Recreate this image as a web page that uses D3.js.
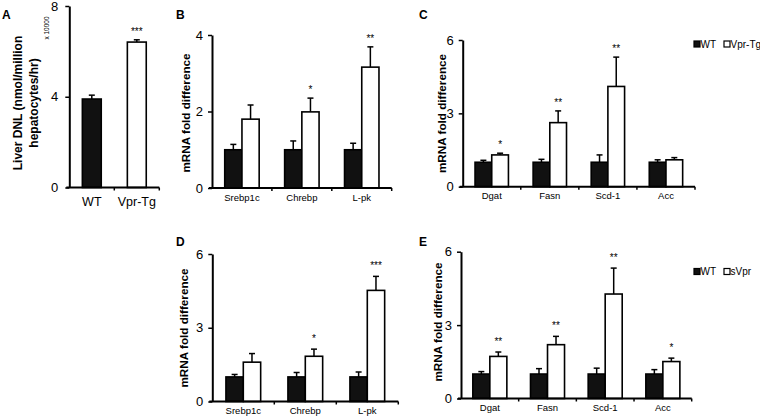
<!DOCTYPE html>
<html><head><meta charset="utf-8">
<script src="https://cdn.jsdelivr.net/npm/d3@7"></script>
<style>body{margin:0;background:#fff} svg{display:block} text{font-family:"Liberation Sans",Arial,Helvetica,sans-serif;fill:#000}</style>
</head><body><svg id="chart" width="760" height="418"></svg>
<script>
// ---------- DATA ----------
const aCategories = ["WT", "Vpr-Tg"];
const aValues = [3.9, 6.41];
const aErrors = [0.17, 0.1];
const aStars = ["", "***"];
const aTicks = [0, 4, 8];

const bCategories = ["Srebp1c", "Chrebp", "L-pk"];
const bWT = [1.0, 1.0, 1.0];
const bWTErr = [0.14, 0.23, 0.17];
const bVpr = [1.8, 1.99, 3.16];
const bVprErr = [0.37, 0.36, 0.53];
const bStars = ["", "*", "**"];
const bTicks = [0, 2, 4];

const cCategories = ["Dgat", "Fasn", "Scd-1", "Acc"];
const cWT = [1.0, 1.0, 1.0, 1.0];
const cWTErr = [0.08, 0.12, 0.3, 0.1];
const cVpr = [1.3, 2.62, 4.1, 1.1];
const cVprErr = [0.07, 0.48, 1.2, 0.09];
const cStars = ["*", "**", "**", ""];
const cTicks = [0, 3, 6];

const dCategories = ["Srebp1c", "Chrebp", "L-pk"];
const dWT = [1.0, 1.0, 1.0];
const dWTErr = [0.1, 0.18, 0.2];
const dVpr = [1.6, 1.84, 4.52];
const dVprErr = [0.35, 0.29, 0.57];
const dStars = ["", "*", "***"];
const dTicks = [0, 3, 6];

const eCategories = ["Dgat", "Fasn", "Scd-1", "Acc"];
const eWT = [1.0, 1.0, 1.0, 1.0];
const eWTErr = [0.1, 0.22, 0.24, 0.18];
const eVpr = [1.72, 2.2, 4.27, 1.51];
const eVprErr = [0.18, 0.34, 1.06, 0.14];
const eStars = ["**", "**", "**", "*"];
const eTicks = [0, 3, 6];

const legendC = ["WT", "Vpr-Tg"];
const legendE = ["WT", "sVpr"];
const yTitle = "mRNA fold difference";

// ---------- DRAW ----------
const svg = d3.select("#chart");

function drawAxes(g, x, y, ticks, o) {
  const ya = g.append("g").attr("transform", `translate(${o.left},0)`)
    .call(d3.axisLeft(y).tickValues(ticks).tickFormat(d3.format("d")).tickSize(4).tickSizeOuter(0).tickPadding(o.tickPad || 5));
  ya.select(".domain").attr("stroke", "#000").attr("stroke-width", 2);
  ya.selectAll(".tick line").attr("stroke", "#000").attr("stroke-width", 1.5);
  ya.selectAll(".tick text").style("font-size", (o.tickFont || 13) + "px").attr("fill", "#000");
  const xa = g.append("g").attr("transform", `translate(0,${o.bottom})`)
    .call(d3.axisBottom(x).tickSize(0).tickPadding(o.xPad || 6));
  xa.select(".domain").attr("stroke", "#000").attr("stroke-width", 2)
    .attr("d", `M${o.left - 3},0H${o.right}`);
  xa.selectAll(".tick text").style("font-size", (o.xFont || 9.5) + "px").attr("fill", "#000");
  g.selectAll(null).data(x.domain()).enter().append("line")
    .attr("x1", d => x(d) + x.bandwidth()).attr("x2", d => x(d) + x.bandwidth())
    .attr("y1", o.bottom).attr("y2", o.bottom + 3)
    .attr("stroke", "#000").attr("stroke-width", 1.5);
}

function errorBar(g, cx, y, v, e, capW) {
  g.append("line").attr("x1", cx).attr("x2", cx).attr("y1", y(v)).attr("y2", y(v + e))
    .attr("stroke", "#000").attr("stroke-width", 1.5);
  g.append("line").attr("x1", cx - capW / 2).attr("x2", cx + capW / 2).attr("y1", y(v + e)).attr("y2", y(v + e))
    .attr("stroke", "#000").attr("stroke-width", 1.5);
}

function groupedPanel(o) {
  const g = svg.append("g");
  const y = d3.scaleLinear().domain([0, o.ticks[o.ticks.length - 1]]).range([o.bottom, o.top]);
  const x = d3.scaleBand().domain(o.categories).range([o.left, o.right]);
  const gw = x.bandwidth() * o.frac;
  const inner = d3.scaleBand().domain(["WT", "Vpr"]).range([0, gw]);
  const off = (x.bandwidth() - gw) / 2;
  o.categories.forEach((c, i) => {
    const x0 = x(c) + off;
    const series = [
      { k: "WT", v: o.wt[i], e: o.wtErr[i], fill: "#111" },
      { k: "Vpr", v: o.vpr[i], e: o.vprErr[i], fill: "#fff" }
    ];
    series.forEach(s => {
      const bx = x0 + inner(s.k);
      errorBar(g, bx + inner.bandwidth() / 2, y, s.v, s.e, 6);
      g.append("rect").attr("x", bx).attr("y", y(s.v))
        .attr("width", inner.bandwidth()).attr("height", o.bottom - y(s.v))
        .attr("fill", s.fill).attr("stroke", "#000").attr("stroke-width", 1.6);
    });
    if (o.stars[i]) {
      g.append("text").attr("x", x0 + inner("Vpr") + inner.bandwidth() / 2)
        .attr("y", y(o.vpr[i] + o.vprErr[i]) - o.starOff)
        .attr("text-anchor", "middle").style("font-size", "10px").style("fill", "#000").text(o.stars[i]);
    }
  });
  drawAxes(g, x, y, o.ticks, o);
  g.append("text").attr("transform", `translate(${o.titleX},${o.titleY}) rotate(-90)`)
    .attr("text-anchor", "middle").attr("dominant-baseline", "central")
    .style("font-size", "11.7px").style("font-weight", "bold").text(yTitle);
  g.append("text").attr("x", o.letterX).attr("y", o.letterY)
    .style("font-size", "12px").style("font-weight", "bold").text(o.letter);
  if (o.legend) {
    const lg = g.append("g");
    const lx = [694, 724];
    o.legend.forEach((t, i) => {
      lg.append("rect").attr("x", lx[i]).attr("y", o.legendY - 3).attr("width", 6).attr("height", 6)
        .attr("fill", i === 0 ? "#111" : "#fff").attr("stroke", "#000").attr("stroke-width", 1.2);
      lg.append("text").attr("x", lx[i] + 6.5).attr("y", o.legendY + 3.7)
        .style("font-size", "10px").text(t);
    });
  }
}

// Panel A
(function () {
  const o = { left: 69.3, right: 159.3, top: 6, bottom: 187.5, tickFont: 13, tickPad: 7, xFont: 12.5, xPad: 10 };
  const g = svg.append("g");
  const y = d3.scaleLinear().domain([0, aTicks[aTicks.length - 1]]).range([o.bottom, o.top]);
  const x = d3.scaleBand().domain(aCategories).range([o.left, o.right]);
  const bw = x.bandwidth() * 0.42;
  aCategories.forEach((c, i) => {
    const bx = x(c) + (x.bandwidth() - bw) / 2;
    errorBar(g, bx + bw / 2, y, aValues[i], aErrors[i], 6);
    g.append("rect").attr("x", bx).attr("y", y(aValues[i])).attr("width", bw)
      .attr("height", o.bottom - y(aValues[i]))
      .attr("fill", i === 0 ? "#111" : "#fff").attr("stroke", "#000").attr("stroke-width", 1.6);
    if (aStars[i]) g.append("text").attr("x", bx + bw / 2).attr("y", y(aValues[i] + aErrors[i]) - 5)
      .attr("text-anchor", "middle").style("font-size", "10px").style("fill", "#000").text(aStars[i]);
  });
  drawAxes(g, x, y, aTicks, o);
  g.append("text").attr("transform", "translate(17.5,103) rotate(-90)").attr("text-anchor", "middle")
    .attr("dominant-baseline", "central").style("font-size", "12px").style("font-weight", "bold")
    .text("Liver DNL (nmol/million");
  g.append("text").attr("transform", "translate(33.5,103) rotate(-90)").attr("text-anchor", "middle")
    .attr("dominant-baseline", "central").style("font-size", "12px").style("font-weight", "bold")
    .text("hepatocytes/hr)");
  g.append("text").attr("transform", "translate(46,28) rotate(-90)").attr("text-anchor", "middle")
    .attr("dominant-baseline", "central").style("font-size", "6.5px").text("x 10000");
  g.append("text").attr("x", 2).attr("y", 19).style("font-size", "12px").style("font-weight", "bold").text("A");
})();

groupedPanel({ categories: bCategories, wt: bWT, wtErr: bWTErr, vpr: bVpr, vprErr: bVprErr, stars: bStars, ticks: bTicks,
  left: 212, right: 391.7, top: 35, bottom: 188, frac: 0.575, starOff: 5, titleX: 185.5, titleY: 113,
  letter: "B", letterX: 176, letterY: 19 });
groupedPanel({ categories: cCategories, wt: cWT, wtErr: cWTErr, vpr: cVpr, vprErr: cVprErr, stars: cStars, ticks: cTicks,
  left: 462.7, right: 695, top: 40, bottom: 186.7, frac: 0.575, starOff: 5, titleX: 441, titleY: 113.5,
  letter: "C", letterX: 419, letterY: 19, legend: legendC, legendY: 44 });
groupedPanel({ categories: dCategories, wt: dWT, wtErr: dWTErr, vpr: dVpr, vprErr: dVprErr, stars: dStars, ticks: dTicks,
  left: 212.3, right: 398.3, top: 254, bottom: 401.5, frac: 0.56, starOff: 7, titleX: 183.3, titleY: 328,
  letter: "D", letterX: 176, letterY: 246 });
groupedPanel({ categories: eCategories, wt: eWT, wtErr: eWTErr, vpr: eVpr, vprErr: eVprErr, stars: eStars, ticks: eTicks,
  left: 461, right: 691.7, top: 251.7, bottom: 398.5, frac: 0.59, starOff: 7, titleX: 437, titleY: 322,
  letter: "E", letterX: 419, letterY: 246, legend: legendE, legendY: 271.5 });
</script>
</body></html>
